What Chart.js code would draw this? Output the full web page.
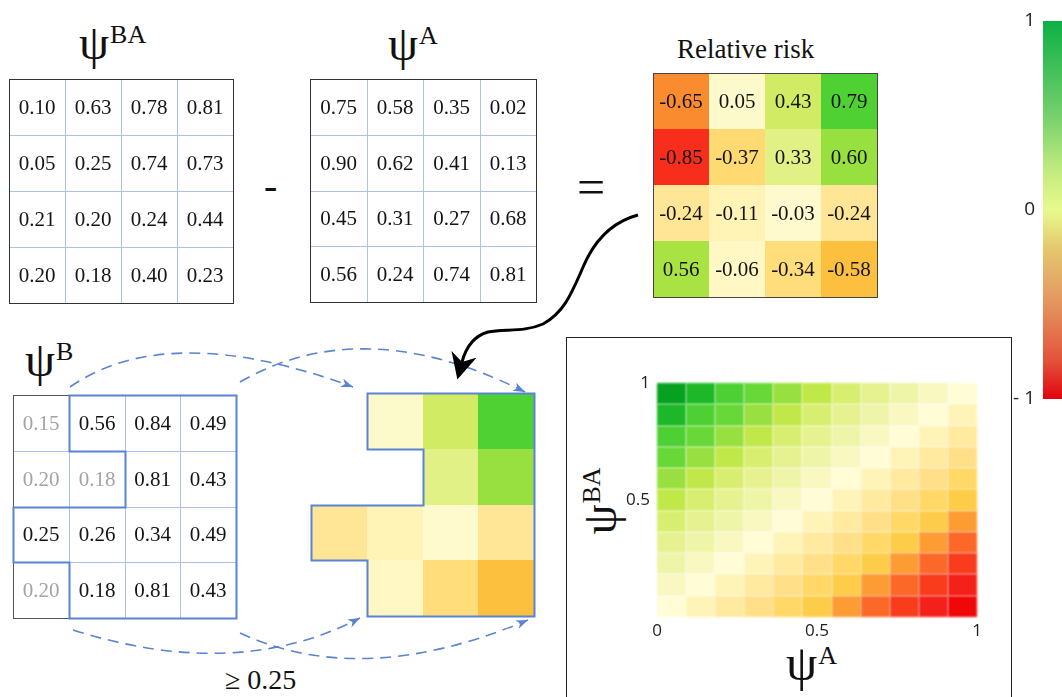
<!DOCTYPE html>
<html>
<head>
<meta charset="utf-8">
<script src="https://cdn.jsdelivr.net/npm/chart.js@4/dist/chart.umd.min.js"></script>
<style>
  html, body { margin: 0; padding: 0; background: #fff; }
  #page { position: relative; width: 1062px; height: 697px; overflow: hidden; background: #fff; }
  #page canvas { position: absolute; }
  .lbl { position: absolute; font-family: "Liberation Serif", serif; color: #111; line-height: 1; white-space: nowrap; }
  .psi { font-size: 48px; }
  .sup { font-size: 26px; position: relative; top: -16px; margin-left: 1px; }
  #frame { position: absolute; left: 566px; top: 337px; width: 444px; height: 400px; border: 1px solid #222; border-bottom: none; }
  svg#ann { position: absolute; left: 0; top: 0; width: 1062px; height: 697px; pointer-events: none; }
</style>
</head>
<body>
<div id="page">
  <div id="frame"></div>

  <div class="lbl psi" style="left:79px;top:19px">ψ<span class="sup">BA</span></div>
  <div class="lbl psi" style="left:388px;top:20px">ψ<span class="sup">A</span></div>
  <div class="lbl psi" style="left:25px;top:336px">ψ<span class="sup">B</span></div>
  <div class="lbl" style="left:677px;top:36px;font-size:27px">Relative risk</div>
  <div class="lbl" style="left:264px;top:166px;font-size:40px">-</div>
  <div class="lbl" style="left:577px;top:162px;font-size:50px">=</div>
  <div class="lbl" style="left:225px;top:666px;font-size:28px">≥ 0.25</div>
  <div class="lbl psi" style="left:786px;top:638px;font-size:50px">ψ<span class="sup">A</span></div>
  <div class="lbl psi" style="left:555px;top:476px;width:90px;height:50px;text-align:center;line-height:50px;transform:rotate(-90deg);">ψ<span class="sup">BA</span></div>

  <svg id="ann" xmlns="http://www.w3.org/2000/svg">
    <defs>
      <marker id="blueHead" markerUnits="userSpaceOnUse" markerWidth="13" markerHeight="10" refX="12" refY="4.5" orient="auto">
        <path d="M0,0 L12,4.5 L0,9 L3.5,4.5 Z" fill="#5a83d2"/>
      </marker>
      <marker id="blackHead" markerUnits="userSpaceOnUse" markerWidth="27" markerHeight="27" refX="8" refY="13" orient="auto">
        <path d="M0,0 L26,13 L0,26 L8,13 Z" fill="#000"/>
      </marker>
    </defs>
    <g fill="none" stroke="#5a83d2" stroke-width="1.6" stroke-dasharray="11 7">
      <path d="M70,387 Q168,319 353,387" marker-end="url(#blueHead)"/>
      <path d="M240,382 Q363,311 525,392" marker-end="url(#blueHead)"/>
      <path d="M73,630 Q237,682 360,618" marker-end="url(#blueHead)"/>
      <path d="M240,633 Q362,690 528,620" marker-end="url(#blueHead)"/>
    </g>
    <path d="M638,215 C612,222 595,240 584,265 C572,292 565,312 543,324 C525,332 505,329 488,332 C474,336 466,347 462,362"
          fill="none" stroke="#000" stroke-width="3" marker-end="url(#blackHead)"/>
  </svg>
</div>

<script>
// ---- values shown in the four matrices (row 0 = top row) ----
const psiBA = [
  [0.10, 0.63, 0.78, 0.81],
  [0.05, 0.25, 0.74, 0.73],
  [0.21, 0.20, 0.24, 0.44],
  [0.20, 0.18, 0.40, 0.23]
];
const psiA = [
  [0.75, 0.58, 0.35, 0.02],
  [0.90, 0.62, 0.41, 0.13],
  [0.45, 0.31, 0.27, 0.68],
  [0.56, 0.24, 0.74, 0.81]
];
const relativeRisk = [
  [-0.65,  0.05,  0.43,  0.79],
  [-0.85, -0.37,  0.33,  0.60],
  [-0.24, -0.11, -0.03, -0.24],
  [ 0.56, -0.06, -0.34, -0.58]
];
const psiB = [
  [0.15, 0.56, 0.84, 0.49],
  [0.20, 0.18, 0.81, 0.43],
  [0.25, 0.26, 0.34, 0.49],
  [0.20, 0.18, 0.81, 0.43]
];
// cells of psiB that pass the 0.25 cut (1 = kept)
const keptB = [
  [0, 1, 1, 1],
  [0, 0, 1, 1],
  [1, 1, 1, 1],
  [0, 1, 1, 1]
];

// ---- relative risk over the (psiA, psiBA) plane, 11 x 11, top row = psiBA 1 ----
const riskSurface = [
  [ 1.0,  0.9,  0.8,  0.7,  0.6,  0.5,  0.4,  0.3,  0.2,  0.1,  0.0],
  [ 0.9,  0.8,  0.7,  0.6,  0.5,  0.4,  0.3,  0.2,  0.1,  0.0, -0.1],
  [ 0.8,  0.7,  0.6,  0.5,  0.4,  0.3,  0.2,  0.1,  0.0, -0.1, -0.2],
  [ 0.7,  0.6,  0.5,  0.4,  0.3,  0.2,  0.1,  0.0, -0.1, -0.2, -0.3],
  [ 0.6,  0.5,  0.4,  0.3,  0.2,  0.1,  0.0, -0.1, -0.2, -0.3, -0.4],
  [ 0.5,  0.4,  0.3,  0.2,  0.1,  0.0, -0.1, -0.2, -0.3, -0.4, -0.5],
  [ 0.4,  0.3,  0.2,  0.1,  0.0, -0.1, -0.2, -0.3, -0.4, -0.5, -0.6],
  [ 0.3,  0.2,  0.1,  0.0, -0.1, -0.2, -0.3, -0.4, -0.5, -0.6, -0.7],
  [ 0.2,  0.1,  0.0, -0.1, -0.2, -0.3, -0.4, -0.5, -0.6, -0.7, -0.8],
  [ 0.1,  0.0, -0.1, -0.2, -0.3, -0.4, -0.5, -0.6, -0.7, -0.8, -0.9],
  [ 0.0, -0.1, -0.2, -0.3, -0.4, -0.5, -0.6, -0.7, -0.8, -0.9, -1.0]
];
const surfaceXTicks = [0, 0.5, 1];
const surfaceYTicks = [0.5, 1];

// ---- colour bar ----
const colorbarRange = [-1, 1];
const colorbarTicks = [-1, 0, 1];

// colour map used for the heatmap cells
const riskStops = [
  [-1.0, [240, 8, 8]], [-0.9, [244, 32, 26]], [-0.8, [248, 60, 28]], [-0.7, [252, 104, 40]],
  [-0.65, [250, 140, 47]], [-0.6, [252, 156, 50]], [-0.58, [252, 192, 62]], [-0.5, [253, 204, 72]],
  [-0.4, [255, 216, 104]], [-0.3, [255, 224, 136]], [-0.2, [255, 234, 160]], [-0.1, [255, 244, 184]],
  [0.0, [255, 252, 214]], [0.1, [248, 248, 192]], [0.2, [238, 244, 168]], [0.3, [230, 242, 144]],
  [0.4, [216, 238, 112]], [0.5, [192, 232, 72]], [0.6, [152, 224, 64]], [0.7, [104, 216, 56]],
  [0.8, [76, 208, 52]], [0.9, [28, 184, 40]], [1.0, [8, 160, 32]]
];
// colour stops for the legend bar
const colorbarStops = [
  [1.0, 'rgb(12,176,70)'], [0.5, 'rgb(118,208,108)'], [0.2, 'rgb(196,236,128)'],
  [0.0, 'rgb(232,250,140)'], [-0.2, 'rgb(228,200,112)'], [-0.5, 'rgb(228,148,94)'],
  [-0.8, 'rgb(226,82,58)'], [-1.0, 'rgb(226,4,14)']
];

function riskColor(v) {
  if (v <= riskStops[0][0]) return 'rgb(' + riskStops[0][1].join(',') + ')';
  for (let i = 1; i < riskStops.length; i++) {
    const [v1, c1] = riskStops[i];
    if (v <= v1) {
      const [v0, c0] = riskStops[i - 1];
      const t = (v - v0) / (v1 - v0);
      const c = c0.map((a, k) => Math.round(a + (c1[k] - a) * t));
      return 'rgb(' + c.join(',') + ')';
    }
  }
  return 'rgb(' + riskStops[riskStops.length - 1][1].join(',') + ')';
}

const BLUE = '#5a83d2';
const GRID = '#adc1ea';
const page = document.getElementById('page');

function addCanvas(left, top, w, h) {
  const cv = document.createElement('canvas');
  cv.width = w; cv.height = h;
  cv.style.left = left + 'px'; cv.style.top = top + 'px';
  cv.style.width = w + 'px'; cv.style.height = h + 'px';
  page.insertBefore(cv, document.getElementById('ann'));
  return cv;
}

// cells, grid, outline and numbers of a small n x n matrix
function matrixPlugin(o) {
  return {
    id: 'matrixCells',
    afterDatasetsDraw(chart) {
      const { ctx, scales: { x, y } } = chart;
      const pts = chart.data.datasets[0].data;
      const n = o.n;
      const px = v => Math.round(x.getPixelForValue(v));
      const py = v => Math.round(y.getPixelForValue(v));
      ctx.save();
      if (o.fill) {
        pts.forEach(p => {
          if (!p.keep) return;
          ctx.fillStyle = riskColor(p.v);
          ctx.fillRect(px(p.c), py(p.r), px(p.c + 1) - px(p.c), py(p.r + 1) - py(p.r));
        });
      }
      if (o.gridColor) {
        ctx.strokeStyle = o.gridColor; ctx.lineWidth = 1;
        ctx.beginPath();
        for (let k = 1; k < n; k++) {
          const gx = px(k) + 0.5, gy = py(k) + 0.5;
          ctx.moveTo(gx, py(0)); ctx.lineTo(gx, py(n));
          ctx.moveTo(px(0), gy); ctx.lineTo(px(n), gy);
        }
        ctx.stroke();
      }
      if (o.borderColor) {
        ctx.strokeStyle = o.borderColor; ctx.lineWidth = 1;
        ctx.strokeRect(px(0) + 0.5, py(0) + 0.5, px(n) - px(0), py(n) - py(0));
      }
      if (o.mask) {
        const kept = (r, c) => r >= 0 && r < n && c >= 0 && c < n && o.mask[r][c];
        ctx.strokeStyle = BLUE; ctx.lineWidth = 2; ctx.lineCap = 'square';
        ctx.beginPath();
        pts.forEach(p => {
          if (!p.keep) return;
          const { r, c } = p;
          const L = px(c) + 0.5, R = px(c + 1) + 0.5, T = py(r) + 0.5, B = py(r + 1) + 0.5;
          if (!kept(r - 1, c)) { ctx.moveTo(L, T); ctx.lineTo(R, T); }
          if (!kept(r + 1, c)) { ctx.moveTo(L, B); ctx.lineTo(R, B); }
          if (!kept(r, c - 1)) { ctx.moveTo(L, T); ctx.lineTo(L, B); }
          if (!kept(r, c + 1)) { ctx.moveTo(R, T); ctx.lineTo(R, B); }
        });
        ctx.stroke();
      }
      if (o.text) {
        ctx.font = '21px "Liberation Serif", serif';
        ctx.textAlign = 'center';
        ctx.textBaseline = 'middle';
        pts.forEach(p => {
          ctx.fillStyle = p.keep ? '#141414' : '#a3a3a3';
          ctx.fillText(p.v.toFixed(2), (px(p.c) + px(p.c + 1)) / 2, (py(p.r) + py(p.r + 1)) / 2 + 1);
        });
      }
      ctx.restore();
    }
  };
}

function drawMatrix(area, values, o) {
  const pad = 3;
  const w = area[2] - area[0] + 2 * pad, h = area[3] - area[1] + 2 * pad;
  const cv = addCanvas(area[0] - pad, area[1] - pad, w, h);
  const n = values.length;
  const pts = [];
  values.forEach((row, r) => row.forEach((v, c) => {
    pts.push({ x: c + 0.5, y: r + 0.5, r, c, v, keep: o.mask ? o.mask[r][c] : 1 });
  }));
  new Chart(cv, {
    type: 'scatter',
    data: { datasets: [{ data: pts, pointRadius: 0, pointHoverRadius: 0 }] },
    options: {
      responsive: false, maintainAspectRatio: false, animation: false, events: [],
      devicePixelRatio: 1,
      layout: { padding: pad },
      plugins: { legend: { display: false }, tooltip: { enabled: false } },
      scales: {
        x: { type: 'linear', min: 0, max: n, display: false },
        y: { type: 'linear', min: 0, max: n, reverse: true, display: false }
      }
    },
    plugins: [matrixPlugin(Object.assign({ n }, o))]
  });
}

drawMatrix([9, 79, 233, 303], psiBA, { text: true, gridColor: GRID, borderColor: '#333' });
drawMatrix([310, 79, 536, 302], psiA, { text: true, gridColor: GRID, borderColor: '#333' });
drawMatrix([653, 73, 877, 297], relativeRisk, { text: true, fill: true, borderColor: '#444' });
drawMatrix([13, 395, 236, 618], psiB, { text: true, gridColor: GRID, borderColor: '#555', mask: keptB });
drawMatrix([311, 393, 534, 616], relativeRisk, { fill: true, mask: keptB });

// ---- relative risk surface ----
(function () {
  const cv = addCanvas(567, 338, 443, 359);
  const rows = riskSurface.length, cols = riskSurface[0].length;
  const pts = [];
  riskSurface.forEach((row, r) => row.forEach((v, c) => {
    pts.push({ x: (c + 0.5) / cols, y: (rows - r - 0.5) / rows, r, c, v });
  }));
  const surfacePlugin = {
    id: 'surfaceCells',
    beforeDatasetsDraw(chart) {
      const { ctx, scales: { x, y } } = chart;
      ctx.save();
      ctx.filter = 'blur(0.8px)';
      chart.data.datasets[0].data.forEach(p => {
        const x0 = Math.round(x.getPixelForValue(p.c / cols));
        const x1 = Math.round(x.getPixelForValue((p.c + 1) / cols));
        const y0 = Math.round(y.getPixelForValue((rows - p.r) / rows));
        const y1 = Math.round(y.getPixelForValue((rows - p.r - 1) / rows));
        ctx.fillStyle = riskColor(p.v);
        ctx.fillRect(x0, y0, x1 - x0, y1 - y0);
      });
      ctx.restore();
    }
  };
  const tickFont = { family: '"Open Sans", sans-serif', size: 17 };
  new Chart(cv, {
    type: 'scatter',
    data: { datasets: [{ data: pts, pointRadius: 0, pointHoverRadius: 0 }] },
    options: {
      responsive: false, maintainAspectRatio: false, animation: false, events: [],
      devicePixelRatio: 1,
      layout: { padding: { top: 45, right: 33, left: 0, bottom: 0 } },
      plugins: { legend: { display: false }, tooltip: { enabled: false } },
      scales: {
        x: {
          type: 'linear', min: 0, max: 1,
          afterBuildTicks: s => { s.ticks = surfaceXTicks.map(v => ({ value: v })); },
          afterFit: s => { s.height = 80; },
          grid: { display: false, drawTicks: false }, border: { display: false },
          ticks: { color: '#222', font: tickFont, padding: 4, maxRotation: 0, autoSkip: false, callback: v => String(v) }
        },
        y: {
          type: 'linear', min: 0, max: 1,
          afterBuildTicks: s => { s.ticks = surfaceYTicks.map(v => ({ value: v })); },
          afterFit: s => { s.width = 90; },
          grid: { display: false, drawTicks: false }, border: { display: false },
          ticks: { color: '#222', font: tickFont, padding: 7, autoSkip: false, callback: v => String(v) }
        }
      }
    },
    plugins: [surfacePlugin]
  });
})();

// ---- colour bar ----
(function () {
  const cv = addCanvas(1000, 0, 62, 440);
  new Chart(cv, {
    type: 'bar',
    data: {
      labels: [''],
      datasets: [{
        data: [colorbarRange],
        barPercentage: 1, categoryPercentage: 1, borderWidth: 0,
        backgroundColor: (context) => {
          const { chart } = context;
          const area = chart.chartArea;
          if (!area) return '#ccc';
          const g = chart.ctx.createLinearGradient(0, area.top, 0, area.bottom);
          colorbarStops.forEach(([v, col]) => g.addColorStop((1 - v) / 2, col));
          return g;
        }
      }]
    },
    options: {
      responsive: false, maintainAspectRatio: false, animation: false, events: [],
      devicePixelRatio: 1,
      layout: { padding: { top: 21, bottom: 41, left: 0, right: 0 } },
      plugins: { legend: { display: false }, tooltip: { enabled: false } },
      scales: {
        x: { display: false },
        y: {
          min: -1, max: 1,
          afterBuildTicks: s => { s.ticks = colorbarTicks.map(v => ({ value: v })); },
          afterFit: s => { s.width = 43; },
          grid: { display: false, drawTicks: false }, border: { display: false },
          ticks: {
            color: '#222', font: { family: '"Open Sans", sans-serif', size: 19 }, padding: 8,
            callback: v => (v < 0 ? '- ' + Math.abs(v) : String(v))
          }
        }
      }
    }
  });
})();
</script>
</body>
</html>
